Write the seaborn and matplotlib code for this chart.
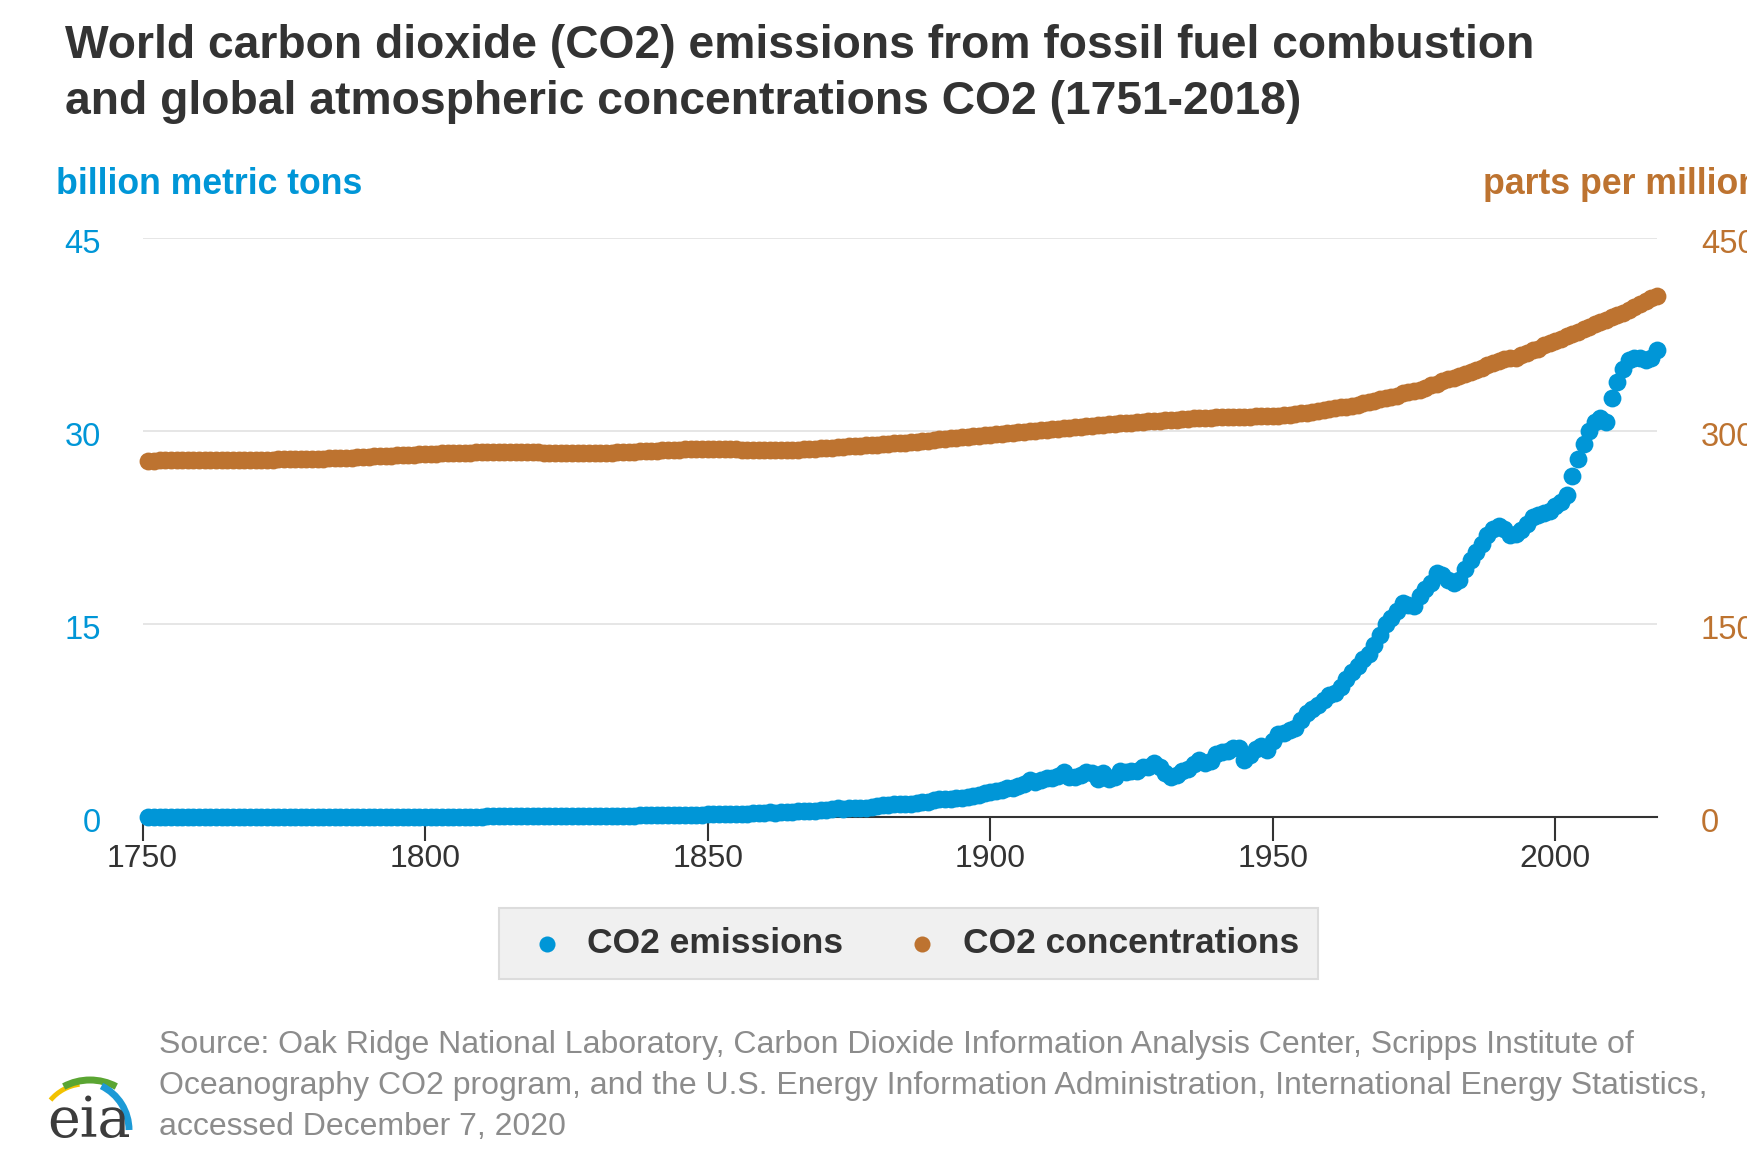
import matplotlib
matplotlib.use("Agg")
import matplotlib.pyplot as plt
from matplotlib.patches import Arc
from matplotlib.transforms import ScaledTranslation
import pandas as pd
import seaborn as sns

# ---------------------------------------------------------------- data
years = list(range(1751, 2019))

# World CO2 emissions from fossil fuel combustion, billion metric tons
emissions = [
    0.011, 0.011, 0.011, 0.011, 0.011, 0.011, 0.011, 0.011, 0.011, 0.011,  # 1751-1760
    0.011, 0.011, 0.011, 0.011, 0.011, 0.015, 0.015, 0.015, 0.015, 0.015,  # 1761-1770
    0.015, 0.015, 0.015, 0.015, 0.015, 0.015, 0.015, 0.018, 0.018, 0.018,  # 1771-1780
    0.018, 0.018, 0.018, 0.018, 0.018, 0.022, 0.022, 0.022, 0.022, 0.022,  # 1781-1790
    0.022, 0.022, 0.022, 0.026, 0.026, 0.026, 0.026, 0.029, 0.029, 0.029,  # 1791-1800
    0.029, 0.029, 0.033, 0.033, 0.033, 0.033, 0.037, 0.037, 0.037, 0.037,  # 1801-1810
    0.040, 0.040, 0.040, 0.044, 0.048, 0.048, 0.048, 0.051, 0.051, 0.051,  # 1811-1820
    0.055, 0.059, 0.059, 0.062, 0.066, 0.070, 0.073, 0.073, 0.077, 0.088,  # 1821-1830
    0.088, 0.092, 0.095, 0.099, 0.106, 0.110, 0.114, 0.117, 0.121, 0.121,  # 1831-1840
    0.128, 0.128, 0.136, 0.143, 0.154, 0.161, 0.172, 0.172, 0.187, 0.198,  # 1841-1850
    0.20, 0.21, 0.22, 0.24, 0.26, 0.27, 0.27, 0.28, 0.30, 0.33,            # 1851-1860
    0.35, 0.34, 0.37, 0.40, 0.41, 0.43, 0.46, 0.47, 0.49, 0.54,            # 1861-1870
    0.57, 0.62, 0.67, 0.63, 0.69, 0.70, 0.72, 0.72, 0.78, 0.87,            # 1871-1880
    0.91, 0.97, 1.03, 1.03, 1.00, 1.00, 1.06, 1.18, 1.18, 1.30,            # 1881-1890
    1.39, 1.39, 1.39, 1.45, 1.51, 1.55, 1.61, 1.70, 1.85, 1.96,            # 1891-1900
    2.02, 2.07, 2.26, 2.29, 2.43, 2.59, 2.87, 2.75, 2.88, 3.00,            # 1901-1910
    3.06, 3.22, 3.46, 3.11, 3.07, 3.30, 3.50, 3.43, 2.95, 3.42,            # 1911-1920
    2.94, 3.10, 3.55, 3.53, 3.57, 3.60, 3.89, 3.90, 4.20, 3.86,            # 1921-1930
    3.44, 3.10, 3.27, 3.57, 3.76, 4.14, 4.43, 4.18, 4.37, 4.86,            # 1931-1940
    5.05, 5.15, 5.35, 5.40, 4.45, 4.80, 5.30, 5.50, 5.20, 5.90,            # 1941-1950
    6.45, 6.55, 6.75, 6.95, 7.55, 8.05, 8.40, 8.70, 9.10, 9.50,            # 1951-1960
    9.60, 10.10, 10.70, 11.30, 11.75, 12.25, 12.65, 13.35, 14.15, 15.00,   # 1961-1970
    15.50, 16.00, 16.60, 16.50, 16.40, 17.20, 17.70, 18.20, 19.00, 18.80,  # 1971-1980
    18.40, 18.20, 18.40, 19.30, 20.00, 20.60, 21.20, 21.90, 22.40, 22.60,  # 1981-1990
    22.40, 21.90, 22.00, 22.30, 22.80, 23.30, 23.50, 23.60, 23.80, 24.20,  # 1991-2000
    24.50, 25.00, 26.50, 27.80, 29.00, 30.00, 30.70, 31.00, 30.70, 32.60,  # 2001-2010
    33.80, 34.80, 35.50, 35.70, 35.70, 35.50, 35.70, 36.30,                # 2011-2018
]

# Global atmospheric CO2 concentration, parts per million
concentrations = [
    277.0, 277.0, 277.1, 277.1, 277.1, 277.2, 277.2, 277.2, 277.3, 277.3,  # 1751-1760
    277.3, 277.4, 277.4, 277.4, 277.5, 277.5, 277.5, 277.6, 277.6, 277.7,  # 1761-1770
    277.7, 277.8, 277.8, 277.9, 277.9, 278.0, 278.1, 278.1, 278.2, 278.3,  # 1771-1780
    278.4, 278.5, 278.7, 278.8, 279.0, 279.2, 279.4, 279.6, 279.8, 280.0,  # 1781-1790
    280.2, 280.4, 280.6, 280.8, 281.0, 281.2, 281.4, 281.6, 281.8, 282.0,  # 1791-1800
    282.2, 282.4, 282.6, 282.8, 282.9, 283.0, 283.1, 283.2, 283.3, 283.4,  # 1801-1810
    283.5, 283.5, 283.6, 283.6, 283.6, 283.6, 283.5, 283.5, 283.4, 283.3,  # 1811-1820
    283.2, 283.1, 283.0, 282.9, 282.9, 282.8, 282.8, 282.8, 282.8, 282.9,  # 1821-1830
    283.0, 283.1, 283.2, 283.4, 283.6, 283.8, 284.0, 284.2, 284.4, 284.6,  # 1831-1840
    284.8, 285.0, 285.2, 285.4, 285.6, 285.7, 285.8, 285.9, 286.0, 286.0,  # 1841-1850
    286.0, 286.0, 285.9, 285.8, 285.7, 285.6, 285.5, 285.4, 285.3, 285.3,  # 1851-1860
    285.3, 285.3, 285.3, 285.4, 285.5, 285.6, 285.8, 286.0, 286.2, 286.5,  # 1861-1870
    286.8, 287.1, 287.4, 287.7, 288.0, 288.3, 288.6, 288.9, 289.2, 289.5,  # 1871-1880
    289.8, 290.1, 290.4, 290.7, 291.0, 291.4, 291.8, 292.2, 292.6, 293.0,  # 1881-1890
    293.4, 293.8, 294.2, 294.6, 295.0, 295.4, 295.8, 296.2, 296.6, 297.0,  # 1891-1900
    297.4, 297.8, 298.2, 298.6, 299.0, 299.4, 299.8, 300.2, 300.6, 301.0,  # 1901-1910
    301.4, 301.8, 302.2, 302.6, 303.0, 303.4, 303.8, 304.2, 304.6, 305.0,  # 1911-1920
    305.3, 305.6, 305.9, 306.2, 306.5, 306.8, 307.1, 307.4, 307.7, 308.0,  # 1921-1930
    308.3, 308.6, 308.9, 309.2, 309.5, 309.8, 310.0, 310.2, 310.4, 310.6,  # 1931-1940
    310.7, 310.8, 310.9, 311.0, 311.1, 311.2, 311.3, 311.4, 311.5, 311.6,  # 1941-1950
    311.9, 312.3, 312.7, 313.2, 313.7, 314.3, 314.9, 315.5, 316.2, 316.9,  # 1951-1960
    317.6, 318.4, 319.0, 319.6, 320.0, 321.4, 322.2, 323.0, 324.6, 325.7,  # 1961-1970
    326.3, 327.4, 329.7, 330.2, 331.1, 332.0, 333.8, 335.4, 336.8, 338.7,  # 1971-1980
    340.1, 341.4, 343.0, 344.6, 346.0, 347.4, 349.2, 351.6, 353.1, 354.4,  # 1981-1990
    355.6, 356.4, 357.1, 358.8, 360.8, 362.6, 363.7, 366.7, 368.4, 369.7,  # 1991-2000
    371.3, 373.5, 375.5, 377.3, 379.3, 381.2, 383.0, 384.8, 386.5, 388.3,  # 2001-2010
    390.1, 392.0, 394.2, 396.3, 398.6, 401.0, 403.2, 405.3,                # 2011-2018
]

x_ticks = [1750, 1800, 1850, 1900, 1950, 2000]
left_ticks = [0, 15, 30, 45]
right_ticks = [0, 150, 300, 450]
series_labels = ["CO2 emissions", "CO2 concentrations"]

title_lines = [
    "World carbon dioxide (CO2) emissions from fossil fuel combustion",
    "and global atmospheric concentrations CO2 (1751-2018)",
]
source_lines = [
    "Source: Oak Ridge National Laboratory, Carbon Dioxide Information Analysis Center, Scripps Institute of",
    "Oceanography CO2 program, and the U.S. Energy Information Administration, International Energy Statistics,",
    "accessed December 7, 2020",
]

df = pd.DataFrame({"year": years, "emissions": emissions,
                   "concentrations": concentrations})

# ---------------------------------------------------------------- style
sns.set_style("white")
plt.rcParams["font.family"] = ["Liberation Sans", "DejaVu Sans"]

BLUE = "#0096d7"
ORANGE = "#bd7330"
DARK = "#333333"
GRID = "#e6e6e6"
SOURCE_GREY = "#8c8c8c"

W_PX, H_PX = 1747, 1152
fig = plt.figure(figsize=(W_PX / 100, H_PX / 100), dpi=100)


def fx(px):
    return px / W_PX


def fy(py):
    return 1 - py / H_PX


# plot area: x from 1750 to 2018, left axis 0-45, right axis 0-450
left, right, top, bottom = 142.6, 1657.0, 238.0, 817.0
ax = fig.add_axes([fx(left), fy(bottom), fx(right - left), (bottom - top) / H_PX])
ax2 = ax.twinx()

sns.scatterplot(data=df, x="year", y="emissions", ax=ax, color=BLUE, s=165,
                linewidth=0, clip_on=False, legend=False, zorder=3)
sns.scatterplot(data=df, x="year", y="concentrations", ax=ax2, color=ORANGE,
                s=165, linewidth=0, clip_on=False, legend=False, zorder=3)

ax.set_xlim(1750, 2018)
ax.set_ylim(0, 45)
ax2.set_ylim(0, 450)
ax.set_xticks(x_ticks)
ax.set_yticks(left_ticks)
ax2.set_yticks(right_ticks)
for a in (ax, ax2):
    a.set_xlabel("")
    a.set_ylabel("")
    for s in a.spines.values():
        s.set_visible(False)

ax.set_axisbelow(True)
ax.yaxis.grid(True, color=GRID, linewidth=1.4)
ax.xaxis.grid(False)
ax2.grid(False)
ax.spines["bottom"].set_visible(True)
ax.spines["bottom"].set_color(DARK)
ax.spines["bottom"].set_linewidth(1.5)
ax.spines["bottom"].set_zorder(2)

ax.tick_params(axis="x", bottom=True, direction="out", length=17, width=1.5,
               color=DARK, labelsize=23, labelcolor=DARK, pad=2.5)
ax.tick_params(axis="y", left=False, length=0, labelsize=23.5,
               labelcolor=BLUE, pad=30)
ax2.tick_params(axis="y", right=False, length=0, labelsize=23.5,
                labelcolor=ORANGE, pad=31.5)

# value labels sit a little below their gridlines
shift = ScaledTranslation(0, -2.5 / 72, fig.dpi_scale_trans)
for lab in ax.get_yticklabels() + ax2.get_yticklabels():
    lab.set_transform(lab.get_transform() + shift)

# ---------------------------------------------------------------- texts
fig.text(fx(64.6), fy(58.5), title_lines[0], fontsize=33.3, fontweight="bold",
         color=DARK, ha="left", va="baseline")
fig.text(fx(64.6), fy(113.5), title_lines[1], fontsize=33.3, fontweight="bold",
         color=DARK, ha="left", va="baseline")

fig.text(fx(55.7), fy(194), "billion metric tons", fontsize=25.7,
         fontweight="bold", color=BLUE, ha="left", va="baseline")
fig.text(fx(1483), fy(194), "parts per million", fontsize=25.7,
         fontweight="bold", color=ORANGE, ha="left", va="baseline")

for line, base in zip(source_lines, (1053, 1094, 1135)):
    fig.text(fx(159), fy(base), line, fontsize=23, color=SOURCE_GREY,
             ha="left", va="baseline")

# ---------------------------------------------------------------- legend
handles = [ax.collections[0], ax2.collections[0]]
leg = fig.legend(handles, series_labels, loc="center",
                 bbox_to_anchor=(fx(908.6), fy(943.5)), ncol=2,
                 frameon=True, fancybox=False, facecolor="#f0f0f0",
                 edgecolor="#dcdcdc", framealpha=1,
                 prop={"weight": "bold", "size": 25.5}, labelcolor=DARK,
                 handlelength=1.6, handletextpad=0.34, columnspacing=1.43,
                 borderpad=0.55, scatterpoints=1, markerscale=0.9)
leg.get_frame().set_linewidth(1.5)

# ---------------------------------------------------------------- eia logo
logo = fig.add_axes([fx(45), fy(1144), fx(95), 84 / H_PX])
logo.set_xlim(0, 95)
logo.set_ylim(0, 84)
logo.set_axis_off()
logo.text(2, 7, "eia", fontsize=40, family="DejaVu Serif", color="#3c3c3c",
          ha="left", va="baseline")
logo.add_patch(Arc((40, 15), 90, 90, theta1=97, theta2=140,
                   color="#f2c200", lw=3.5))
logo.add_patch(Arc((45, 8), 112, 112, theta1=62, theta2=118,
                   color="#5aa532", lw=5))
logo.add_patch(Arc((35, 14), 98, 98, theta1=0, theta2=64,
                   color="#1c9ad6", lw=5))

fig.savefig("out.png", dpi=100, facecolor="white")
